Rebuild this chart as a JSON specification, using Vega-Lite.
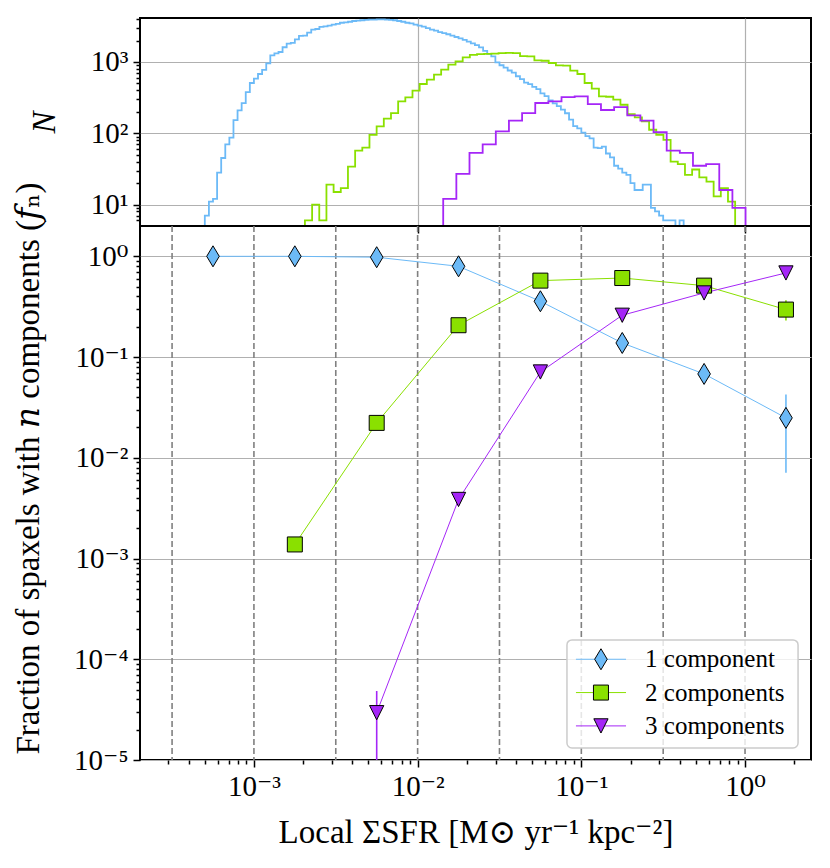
{
  "$schema": "https://vega.github.io/schema/vega-lite/v6.json",
  "autosize": {"type": "pad"},
  "padding": {"left": 10, "top": 17, "right": 0, "bottom": 0},
  "background": "white",
  "spacing": 0,
  "bounds": "flush",
  "resolve": {
    "scale": {"color": "independent", "stroke": "independent", "shape": "independent"},
    "legend": {"color": "independent", "stroke": "independent", "shape": "independent"}
  },
  "config": {
    "font": "Liberation Serif, DejaVu Serif, serif",
    "view": {"stroke": "black", "strokeWidth": 2},
    "axis": {
      "domain": false,
      "tickColor": "black",
      "tickWidth": 1.5,
      "labelFont": "Liberation Serif, DejaVu Serif, serif",
      "labelFontSize": 29,
      "labelColor": "black",
      "labelPadding": 5,
      "labelOverlap": false,
      "labelFlush": false,
      "titleFont": "Liberation Serif, DejaVu Serif, serif",
      "titleFontSize": 33,
      "titleFontWeight": "normal",
      "titleColor": "black",
      "gridColor": "#b0b0b0",
      "gridWidth": 1.2
    }
  },
  "datasets": {
    "hist": [
      {"c": "1", "sfr": 4.9e-4, "n": 1},
      {"c": "1", "sfr": 5.012e-4, "n": 7},
      {"c": "1", "sfr": 5.309e-4, "n": 11},
      {"c": "1", "sfr": 5.623e-4, "n": 12},
      {"c": "1", "sfr": 5.957e-4, "n": 28},
      {"c": "1", "sfr": 6.310e-4, "n": 45},
      {"c": "1", "sfr": 6.683e-4, "n": 70},
      {"c": "1", "sfr": 7.079e-4, "n": 87},
      {"c": "1", "sfr": 7.499e-4, "n": 153},
      {"c": "1", "sfr": 7.943e-4, "n": 209},
      {"c": "1", "sfr": 8.414e-4, "n": 265},
      {"c": "1", "sfr": 8.913e-4, "n": 378},
      {"c": "1", "sfr": 9.441e-4, "n": 507},
      {"c": "1", "sfr": 1.000e-3, "n": 583},
      {"c": "1", "sfr": 1.059e-3, "n": 678},
      {"c": "1", "sfr": 1.122e-3, "n": 776},
      {"c": "1", "sfr": 1.189e-3, "n": 955},
      {"c": "1", "sfr": 1.259e-3, "n": 1240},
      {"c": "1", "sfr": 1.334e-3, "n": 1320},
      {"c": "1", "sfr": 1.413e-3, "n": 1380},
      {"c": "1", "sfr": 1.496e-3, "n": 1610},
      {"c": "1", "sfr": 1.585e-3, "n": 1810},
      {"c": "1", "sfr": 1.679e-3, "n": 1850},
      {"c": "1", "sfr": 1.778e-3, "n": 2080},
      {"c": "1", "sfr": 1.884e-3, "n": 2320},
      {"c": "1", "sfr": 1.995e-3, "n": 2350},
      {"c": "1", "sfr": 2.113e-3, "n": 2580},
      {"c": "1", "sfr": 2.239e-3, "n": 2840},
      {"c": "1", "sfr": 2.371e-3, "n": 2900},
      {"c": "1", "sfr": 2.512e-3, "n": 3100},
      {"c": "1", "sfr": 2.661e-3, "n": 3160},
      {"c": "1", "sfr": 2.818e-3, "n": 3240},
      {"c": "1", "sfr": 2.985e-3, "n": 3350},
      {"c": "1", "sfr": 3.162e-3, "n": 3430},
      {"c": "1", "sfr": 3.350e-3, "n": 3550},
      {"c": "1", "sfr": 3.548e-3, "n": 3600},
      {"c": "1", "sfr": 3.758e-3, "n": 3670},
      {"c": "1", "sfr": 3.981e-3, "n": 3760},
      {"c": "1", "sfr": 4.217e-3, "n": 3800},
      {"c": "1", "sfr": 4.467e-3, "n": 3850},
      {"c": "1", "sfr": 4.732e-3, "n": 3890},
      {"c": "1", "sfr": 5.012e-3, "n": 3940},
      {"c": "1", "sfr": 5.309e-3, "n": 3940},
      {"c": "1", "sfr": 5.623e-3, "n": 3950},
      {"c": "1", "sfr": 5.957e-3, "n": 3950},
      {"c": "1", "sfr": 6.310e-3, "n": 3940},
      {"c": "1", "sfr": 6.683e-3, "n": 3890},
      {"c": "1", "sfr": 7.079e-3, "n": 3850},
      {"c": "1", "sfr": 7.499e-3, "n": 3760},
      {"c": "1", "sfr": 7.943e-3, "n": 3670},
      {"c": "1", "sfr": 8.414e-3, "n": 3550},
      {"c": "1", "sfr": 8.913e-3, "n": 3470},
      {"c": "1", "sfr": 9.441e-3, "n": 3350},
      {"c": "1", "sfr": 0.01, "n": 3240},
      {"c": "1", "sfr": 0.01059, "n": 3130},
      {"c": "1", "sfr": 0.01122, "n": 2990},
      {"c": "1", "sfr": 0.01189, "n": 2850},
      {"c": "1", "sfr": 0.01259, "n": 2750},
      {"c": "1", "sfr": 0.01334, "n": 2630},
      {"c": "1", "sfr": 0.01413, "n": 2540},
      {"c": "1", "sfr": 0.01496, "n": 2450},
      {"c": "1", "sfr": 0.01585, "n": 2340},
      {"c": "1", "sfr": 0.01679, "n": 2240},
      {"c": "1", "sfr": 0.01778, "n": 2140},
      {"c": "1", "sfr": 0.01884, "n": 2040},
      {"c": "1", "sfr": 0.01995, "n": 1930},
      {"c": "1", "sfr": 0.02113, "n": 1820},
      {"c": "1", "sfr": 0.02239, "n": 1720},
      {"c": "1", "sfr": 0.02371, "n": 1600},
      {"c": "1", "sfr": 0.02512, "n": 1430},
      {"c": "1", "sfr": 0.02661, "n": 1300},
      {"c": "1", "sfr": 0.02818, "n": 1200},
      {"c": "1", "sfr": 0.02985, "n": 990},
      {"c": "1", "sfr": 0.03162, "n": 900},
      {"c": "1", "sfr": 0.0335, "n": 832},
      {"c": "1", "sfr": 0.03548, "n": 759},
      {"c": "1", "sfr": 0.03758, "n": 708},
      {"c": "1", "sfr": 0.03981, "n": 631},
      {"c": "1", "sfr": 0.04217, "n": 575},
      {"c": "1", "sfr": 0.04467, "n": 513},
      {"c": "1", "sfr": 0.04732, "n": 490},
      {"c": "1", "sfr": 0.05012, "n": 447},
      {"c": "1", "sfr": 0.05309, "n": 417},
      {"c": "1", "sfr": 0.05623, "n": 363},
      {"c": "1", "sfr": 0.05957, "n": 331},
      {"c": "1", "sfr": 0.0631, "n": 288},
      {"c": "1", "sfr": 0.06683, "n": 263},
      {"c": "1", "sfr": 0.07079, "n": 240},
      {"c": "1", "sfr": 0.07499, "n": 214},
      {"c": "1", "sfr": 0.07943, "n": 191},
      {"c": "1", "sfr": 0.08414, "n": 155},
      {"c": "1", "sfr": 0.08913, "n": 126},
      {"c": "1", "sfr": 0.09441, "n": 117},
      {"c": "1", "sfr": 0.1, "n": 102},
      {"c": "1", "sfr": 0.1059, "n": 91},
      {"c": "1", "sfr": 0.1122, "n": 85},
      {"c": "1", "sfr": 0.1189, "n": 63},
      {"c": "1", "sfr": 0.1259, "n": 62},
      {"c": "1", "sfr": 0.1334, "n": 65},
      {"c": "1", "sfr": 0.1413, "n": 52},
      {"c": "1", "sfr": 0.1496, "n": 46},
      {"c": "1", "sfr": 0.1585, "n": 35},
      {"c": "1", "sfr": 0.1679, "n": 32},
      {"c": "1", "sfr": 0.1778, "n": 28},
      {"c": "1", "sfr": 0.1884, "n": 26},
      {"c": "1", "sfr": 0.1995, "n": 20},
      {"c": "1", "sfr": 0.2113, "n": 16},
      {"c": "1", "sfr": 0.2239, "n": 16},
      {"c": "1", "sfr": 0.2371, "n": 19},
      {"c": "1", "sfr": 0.2512, "n": 19},
      {"c": "1", "sfr": 0.2661, "n": 9},
      {"c": "1", "sfr": 0.2818, "n": 8},
      {"c": "1", "sfr": 0.2985, "n": 7},
      {"c": "1", "sfr": 0.3162, "n": 6},
      {"c": "1", "sfr": 0.335, "n": 6},
      {"c": "1", "sfr": 0.3548, "n": 6},
      {"c": "1", "sfr": 0.3758, "n": 4},
      {"c": "1", "sfr": 0.3981, "n": 6},
      {"c": "1", "sfr": 0.4217, "n": 4},
      {"c": "1", "sfr": 0.4467, "n": 4},
      {"c": "1", "sfr": 0.4732, "n": 5},
      {"c": "1", "sfr": 0.5012, "n": 4},
      {"c": "1", "sfr": 0.5309, "n": 1},
      {"c": "2", "sfr": 1.6e-3, "n": 1},
      {"c": "2", "sfr": 1.675e-3, "n": 5},
      {"c": "2", "sfr": 1.853e-3, "n": 4},
      {"c": "2", "sfr": 2.049e-3, "n": 6},
      {"c": "2", "sfr": 2.267e-3, "n": 10},
      {"c": "2", "sfr": 2.507e-3, "n": 6},
      {"c": "2", "sfr": 2.773e-3, "n": 19},
      {"c": "2", "sfr": 3.067e-3, "n": 15},
      {"c": "2", "sfr": 3.393e-3, "n": 17},
      {"c": "2", "sfr": 3.753e-3, "n": 34},
      {"c": "2", "sfr": 4.152e-3, "n": 57},
      {"c": "2", "sfr": 4.592e-3, "n": 63},
      {"c": "2", "sfr": 5.079e-3, "n": 95},
      {"c": "2", "sfr": 5.618e-3, "n": 125},
      {"c": "2", "sfr": 6.214e-3, "n": 160},
      {"c": "2", "sfr": 6.874e-3, "n": 192},
      {"c": "2", "sfr": 7.603e-3, "n": 280},
      {"c": "2", "sfr": 8.410e-3, "n": 319},
      {"c": "2", "sfr": 9.302e-3, "n": 396},
      {"c": "2", "sfr": 0.01029, "n": 491},
      {"c": "2", "sfr": 0.01138, "n": 565},
      {"c": "2", "sfr": 0.01259, "n": 664},
      {"c": "2", "sfr": 0.01392, "n": 780},
      {"c": "2", "sfr": 0.0154, "n": 918},
      {"c": "2", "sfr": 0.01704, "n": 1022},
      {"c": "2", "sfr": 0.01885, "n": 1163},
      {"c": "2", "sfr": 0.02084, "n": 1260},
      {"c": "2", "sfr": 0.02306, "n": 1290},
      {"c": "2", "sfr": 0.0255, "n": 1300},
      {"c": "2", "sfr": 0.02821, "n": 1310},
      {"c": "2", "sfr": 0.0312, "n": 1330},
      {"c": "2", "sfr": 0.03451, "n": 1340},
      {"c": "2", "sfr": 0.03818, "n": 1330},
      {"c": "2", "sfr": 0.04223, "n": 1210},
      {"c": "2", "sfr": 0.04671, "n": 1200},
      {"c": "2", "sfr": 0.05166, "n": 1050},
      {"c": "2", "sfr": 0.05715, "n": 1040},
      {"c": "2", "sfr": 0.06321, "n": 968},
      {"c": "2", "sfr": 0.06992, "n": 898},
      {"c": "2", "sfr": 0.07734, "n": 890},
      {"c": "2", "sfr": 0.08554, "n": 755},
      {"c": "2", "sfr": 0.09462, "n": 678},
      {"c": "2", "sfr": 0.1047, "n": 507},
      {"c": "2", "sfr": 0.1158, "n": 422},
      {"c": "2", "sfr": 0.1281, "n": 330},
      {"c": "2", "sfr": 0.1416, "n": 325},
      {"c": "2", "sfr": 0.1567, "n": 296},
      {"c": "2", "sfr": 0.1733, "n": 251},
      {"c": "2", "sfr": 0.1917, "n": 186},
      {"c": "2", "sfr": 0.212, "n": 167},
      {"c": "2", "sfr": 0.2345, "n": 147},
      {"c": "2", "sfr": 0.2594, "n": 112},
      {"c": "2", "sfr": 0.2869, "n": 95},
      {"c": "2", "sfr": 0.3174, "n": 81},
      {"c": "2", "sfr": 0.3511, "n": 40},
      {"c": "2", "sfr": 0.3883, "n": 37},
      {"c": "2", "sfr": 0.4296, "n": 26},
      {"c": "2", "sfr": 0.4751, "n": 31},
      {"c": "2", "sfr": 0.5255, "n": 24},
      {"c": "2", "sfr": 0.5813, "n": 21},
      {"c": "2", "sfr": 0.643, "n": 13},
      {"c": "2", "sfr": 0.7112, "n": 17},
      {"c": "2", "sfr": 0.7867, "n": 11},
      {"c": "2", "sfr": 0.8701, "n": 1},
      {"c": "3", "sfr": 0.0115, "n": 1},
      {"c": "3", "sfr": 0.01191, "n": 5},
      {"c": "3", "sfr": 0.01433, "n": 12},
      {"c": "3", "sfr": 0.01724, "n": 27},
      {"c": "3", "sfr": 0.02074, "n": 53},
      {"c": "3", "sfr": 0.02496, "n": 70},
      {"c": "3", "sfr": 0.03003, "n": 106},
      {"c": "3", "sfr": 0.03612, "n": 150},
      {"c": "3", "sfr": 0.04346, "n": 192},
      {"c": "3", "sfr": 0.05229, "n": 266},
      {"c": "3", "sfr": 0.06291, "n": 280},
      {"c": "3", "sfr": 0.07568, "n": 322},
      {"c": "3", "sfr": 0.09105, "n": 330},
      {"c": "3", "sfr": 0.1095, "n": 257},
      {"c": "3", "sfr": 0.1318, "n": 212},
      {"c": "3", "sfr": 0.1586, "n": 233},
      {"c": "3", "sfr": 0.1908, "n": 178},
      {"c": "3", "sfr": 0.2295, "n": 150},
      {"c": "3", "sfr": 0.2761, "n": 104},
      {"c": "3", "sfr": 0.3322, "n": 57},
      {"c": "3", "sfr": 0.3997, "n": 53},
      {"c": "3", "sfr": 0.4808, "n": 35},
      {"c": "3", "sfr": 0.5785, "n": 37},
      {"c": "3", "sfr": 0.696, "n": 16},
      {"c": "3", "sfr": 0.8373, "n": 9},
      {"c": "3", "sfr": 1.007, "n": 1}
    ],
    "frac": [
      {"c": "1", "sfr": 5.623e-4, "f": 1.0},
      {"c": "1", "sfr": 1.778e-3, "f": 1.0},
      {"c": "1", "sfr": 5.623e-3, "f": 0.98},
      {"c": "1", "sfr": 0.01778, "f": 0.796},
      {"c": "1", "sfr": 0.05623, "f": 0.358},
      {"c": "1", "sfr": 0.1778, "f": 0.138},
      {"c": "1", "sfr": 0.5623, "f": 0.068},
      {"c": "1", "sfr": 1.778, "f": 0.0249, "lo": 0.0071, "hi": 0.0425},
      {"c": "2", "sfr": 1.778e-3, "f": 0.00138},
      {"c": "2", "sfr": 5.623e-3, "f": 0.0222},
      {"c": "2", "sfr": 0.01778, "f": 0.207},
      {"c": "2", "sfr": 0.05623, "f": 0.574},
      {"c": "2", "sfr": 0.1778, "f": 0.609},
      {"c": "2", "sfr": 0.5623, "f": 0.512},
      {"c": "2", "sfr": 1.778, "f": 0.296, "lo": 0.23, "hi": 0.366},
      {"c": "3", "sfr": 5.623e-3, "f": 2.95e-5, "lo": 1e-6, "hi": 4.84e-5},
      {"c": "3", "sfr": 0.01778, "f": 0.00386},
      {"c": "3", "sfr": 0.05623, "f": 0.0711},
      {"c": "3", "sfr": 0.1778, "f": 0.26},
      {"c": "3", "sfr": 0.5623, "f": 0.433},
      {"c": "3", "sfr": 1.778, "f": 0.684}
    ],
    "edges": [
      {"v": 3.162e-4}, {"v": 0.001}, {"v": 3.162e-3}, {"v": 0.01},
      {"v": 0.03162}, {"v": 0.1}, {"v": 0.3162}, {"v": 1}
    ],
    "legend": [
      {"c": "1", "label": "1 component"},
      {"c": "2", "label": "2 components"},
      {"c": "3", "label": "3 components"}
    ]
  },
  "vconcat": [
    {
      "width": 671,
      "height": 208,
      "data": {"name": "hist"},
      "mark": {"type": "line", "interpolate": "step-after", "strokeWidth": 1.8, "clip": true},
      "encoding": {
        "x": {
          "field": "sfr",
          "type": "quantitative",
          "scale": {"type": "log", "domain": [2.014e-4, 2.529], "nice": false},
          "axis": {"values": [0.01, 1], "labels": false, "title": null, "tickSize": 7, "grid": true}
        },
        "y": {
          "field": "n",
          "type": "quantitative",
          "scale": {"type": "log", "domain": [5.0, 4140], "nice": false},
          "axis": {
            "values": [6, 7, 8, 9, 10, 20, 30, 40, 50, 60, 70, 80, 90, 100, 200, 300, 400, 500, 600, 700, 800, 900, 1000, 2000, 3000, 4000],
            "labelExpr": "abs(log(datum.value)/LN10 - round(log(datum.value)/LN10)) < 0.01 ? '10' + ['⁻⁵','⁻⁴','⁻³','⁻²','⁻¹','⁰','¹','²','³'][round(log(datum.value)/LN10) + 5] : ''",
            "labelFontSize": {"condition": {"test": "abs(log(datum.value)/LN10 - round(log(datum.value)/LN10)) < 0.01", "value": 29}, "value": 0},
            "tickSize": {"condition": {"test": "abs(log(datum.value)/LN10 - round(log(datum.value)/LN10)) < 0.01", "value": 7}, "value": 4},
            "gridOpacity": {"condition": {"test": "abs(log(datum.value)/LN10 - round(log(datum.value)/LN10)) < 0.01", "value": 1}, "value": 0},
            "title": "N",
            "titleFontStyle": "italic",
            "titleX": -86,
            "titleBaseline": "alphabetic"
          }
        },
        "stroke": {
          "field": "c",
          "type": "nominal",
          "scale": {"domain": ["1", "2", "3"], "range": ["#6cbaf7", "#8ae000", "#a526f7"]},
          "legend": null
        }
      }
    },
    {
      "width": 671,
      "height": 534,
      "layer": [
        {
          "data": {"name": "edges"},
          "mark": {"type": "rule", "color": "#808080", "strokeDash": [6, 3], "strokeWidth": 1.6},
          "encoding": {
            "x": {
              "field": "v",
              "type": "quantitative",
              "scale": {"type": "log", "domain": [2.014e-4, 2.529], "nice": false},
              "axis": {
                "values": [3e-4, 4e-4, 5e-4, 6e-4, 7e-4, 8e-4, 9e-4, 0.001, 0.002, 0.003, 0.004, 0.005, 0.006, 0.007, 0.008, 0.009, 0.01, 0.02, 0.03, 0.04, 0.05, 0.06, 0.07, 0.08, 0.09, 0.1, 0.2, 0.3, 0.4, 0.5, 0.6, 0.7, 0.8, 0.9, 1, 2],
                "labelExpr": "abs(log(datum.value)/LN10 - round(log(datum.value)/LN10)) < 0.01 ? '10' + ['⁻⁵','⁻⁴','⁻³','⁻²','⁻¹','⁰','¹','²','³'][round(log(datum.value)/LN10) + 5] : ''",
                "labelFontSize": {"condition": {"test": "abs(log(datum.value)/LN10 - round(log(datum.value)/LN10)) < 0.01", "value": 29}, "value": 0},
                "tickSize": {"condition": {"test": "abs(log(datum.value)/LN10 - round(log(datum.value)/LN10)) < 0.01", "value": 7}, "value": 4},
                "grid": false,
                "title": "Local ΣSFR [M⊙ yr⁻¹ kpc⁻²]",
                "titleY": 82,
                "titleBaseline": "alphabetic"
              }
            }
          }
        },
        {
          "data": {"name": "frac"},
          "mark": {"type": "line", "strokeWidth": 1, "clip": true},
          "encoding": {
            "x": {"field": "sfr", "type": "quantitative"},
            "y": {
              "field": "f",
              "type": "quantitative",
              "scale": {"type": "log", "domain": [1e-5, 2.0], "nice": false},
              "axis": {
                "values": [1e-5, 2e-5, 3e-5, 4e-5, 5e-5, 6e-5, 7e-5, 8e-5, 9e-5, 1e-4, 2e-4, 3e-4, 4e-4, 5e-4, 6e-4, 7e-4, 8e-4, 9e-4, 0.001, 0.002, 0.003, 0.004, 0.005, 0.006, 0.007, 0.008, 0.009, 0.01, 0.02, 0.03, 0.04, 0.05, 0.06, 0.07, 0.08, 0.09, 0.1, 0.2, 0.3, 0.4, 0.5, 0.6, 0.7, 0.8, 0.9, 1],
                "labelExpr": "abs(log(datum.value)/LN10 - round(log(datum.value)/LN10)) < 0.01 ? '10' + ['⁻⁵','⁻⁴','⁻³','⁻²','⁻¹','⁰','¹','²','³'][round(log(datum.value)/LN10) + 5] : ''",
                "labelFontSize": {"condition": {"test": "abs(log(datum.value)/LN10 - round(log(datum.value)/LN10)) < 0.01", "value": 29}, "value": 0},
                "tickSize": {"condition": {"test": "abs(log(datum.value)/LN10 - round(log(datum.value)/LN10)) < 0.01", "value": 7}, "value": 4},
                "gridOpacity": {"condition": {"test": "abs(log(datum.value)/LN10 - round(log(datum.value)/LN10)) < 0.01", "value": 1}, "value": 0},
                "title": "Fraction of spaxels with 𝑛 components (𝑓ₙ)",
                "titleX": -102,
                "titleY": 242,
                "titleBaseline": "alphabetic"
              }
            },
            "stroke": {
              "field": "c",
              "type": "nominal",
              "scale": {"domain": ["1", "2", "3"], "range": ["#6cbaf7", "#8ae000", "#a526f7"]},
              "legend": null
            }
          }
        },
        {
          "data": {"name": "frac"},
          "transform": [{"filter": "isValid(datum.lo)"}],
          "mark": {"type": "rule", "strokeWidth": 1.6, "clip": true},
          "encoding": {
            "x": {"field": "sfr", "type": "quantitative"},
            "y": {"field": "lo", "type": "quantitative"},
            "y2": {"field": "hi"},
            "stroke": {"field": "c", "type": "nominal", "legend": null}
          }
        },
        {
          "data": {"name": "frac"},
          "mark": {"type": "point", "filled": true, "size": 225, "stroke": "black", "strokeWidth": 1, "opacity": 1},
          "encoding": {
            "x": {"field": "sfr", "type": "quantitative"},
            "y": {"field": "f", "type": "quantitative"},
            "color": {
              "field": "c",
              "type": "nominal",
              "scale": {"domain": ["1", "2", "3"], "range": ["#6cbaf7", "#8ae000", "#a526f7"]},
              "legend": null
            },
            "shape": {
              "field": "c",
              "type": "nominal",
              "scale": {"domain": ["1", "2", "3"], "range": ["M0,-1.4L0.84,0L0,1.4L-0.84,0Z", "square", "M-0.95,-0.95L0.95,-0.95L0,0.95Z"]},
              "legend": null
            }
          }
        },
        {
          "data": {"values": [{"box": "legend"}]},
          "mark": {"type": "rect", "fill": "white", "fillOpacity": 0.8, "stroke": "#cccccc", "strokeWidth": 1.5, "cornerRadius": 5},
          "encoding": {
            "x": {"datum": 0.0817, "type": "quantitative"},
            "x2": {"datum": 2.108},
            "y": {"datum": 1.556e-4, "type": "quantitative"},
            "y2": {"datum": 1.318e-5}
          }
        },
        {
          "data": {"name": "legend"},
          "transform": [{"filter": "datum.c == '1'"}],
          "encoding": {"y": {"datum": 1.0e-4, "type": "quantitative"}},
          "layer": [
            {"mark": {"type": "rule", "strokeWidth": 1}, "encoding": {"x": {"datum": 0.0927, "type": "quantitative"}, "x2": {"datum": 0.1875}, "stroke": {"field": "c", "type": "nominal", "legend": null}}},
            {"mark": {"type": "point", "filled": true, "size": 225, "stroke": "black", "strokeWidth": 1, "opacity": 1}, "encoding": {"x": {"datum": 0.1318, "type": "quantitative"}, "color": {"field": "c", "type": "nominal", "legend": null}, "shape": {"field": "c", "type": "nominal", "legend": null}}},
            {"mark": {"type": "text", "align": "left", "baseline": "middle", "font": "Liberation Serif, DejaVu Serif, serif", "fontSize": 25, "color": "black"}, "encoding": {"x": {"datum": 0.245, "type": "quantitative"}, "text": {"field": "label"}}}
          ]
        },
        {
          "data": {"name": "legend"},
          "transform": [{"filter": "datum.c == '2'"}],
          "encoding": {"y": {"datum": 4.67e-5, "type": "quantitative"}},
          "layer": [
            {"mark": {"type": "rule", "strokeWidth": 1}, "encoding": {"x": {"datum": 0.0927, "type": "quantitative"}, "x2": {"datum": 0.1875}, "stroke": {"field": "c", "type": "nominal", "legend": null}}},
            {"mark": {"type": "point", "filled": true, "size": 225, "stroke": "black", "strokeWidth": 1, "opacity": 1}, "encoding": {"x": {"datum": 0.1318, "type": "quantitative"}, "color": {"field": "c", "type": "nominal", "legend": null}, "shape": {"field": "c", "type": "nominal", "legend": null}}},
            {"mark": {"type": "text", "align": "left", "baseline": "middle", "font": "Liberation Serif, DejaVu Serif, serif", "fontSize": 25, "color": "black"}, "encoding": {"x": {"datum": 0.245, "type": "quantitative"}, "text": {"field": "label"}}}
          ]
        },
        {
          "data": {"name": "legend"},
          "transform": [{"filter": "datum.c == '3'"}],
          "encoding": {"y": {"datum": 2.18e-5, "type": "quantitative"}},
          "layer": [
            {"mark": {"type": "rule", "strokeWidth": 1}, "encoding": {"x": {"datum": 0.0927, "type": "quantitative"}, "x2": {"datum": 0.1875}, "stroke": {"field": "c", "type": "nominal", "legend": null}}},
            {"mark": {"type": "point", "filled": true, "size": 225, "stroke": "black", "strokeWidth": 1, "opacity": 1}, "encoding": {"x": {"datum": 0.1318, "type": "quantitative"}, "color": {"field": "c", "type": "nominal", "legend": null}, "shape": {"field": "c", "type": "nominal", "legend": null}}},
            {"mark": {"type": "text", "align": "left", "baseline": "middle", "font": "Liberation Serif, DejaVu Serif, serif", "fontSize": 25, "color": "black"}, "encoding": {"x": {"datum": 0.245, "type": "quantitative"}, "text": {"field": "label"}}}
          ]
        }
      ]
    }
  ]
}
